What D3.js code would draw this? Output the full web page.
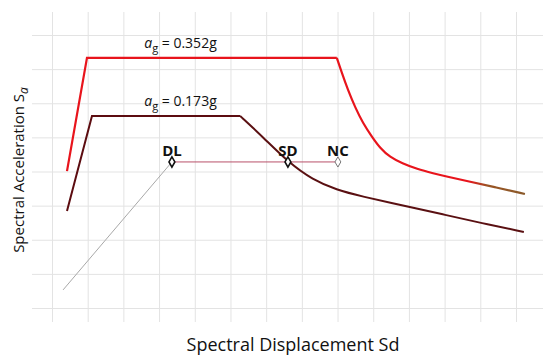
<!DOCTYPE html>
<html>
<head>
<meta charset="utf-8">
<script src="https://cdn.jsdelivr.net/npm/d3@7"></script>
<style>
  body { margin: 0; background: #fff; }
  text { font-family: "Open Sans", sans-serif; }
</style>
</head>
<body>
<div id="chart"></div>
<script>
// spectrum for ag = 0.352g  [Sd, Sa]
const redRise = [[0.42, 4.01], [0.98, 7.33], [7.98, 7.33]]
const redDecay = [[7.98, 7.33], [8.12, 6.89], [8.29, 6.39], [8.49, 5.89], [8.71, 5.42], [8.97, 5.01],
    [9.19, 4.69], [9.47, 4.42], [9.81, 4.24], [10.23, 4.07], [10.67, 3.95], [11.15, 3.83],
    [11.63, 3.72], [12.45, 3.53], [13.25, 3.34]]
// spectrum for ag = 0.173g
const darkRise = [[0.42, 2.84], [1.12, 5.63], [5.27, 5.63]]
const darkDecay = [[5.27, 5.63], [5.91, 5.01], [6.61, 4.28], [7.31, 3.75], [7.98, 3.46], [8.63, 3.28],
    [10.03, 2.96], [11.01, 2.73], [12.02, 2.49], [13.22, 2.23]]
// performance points
const limitNames = ["DL", "SD", "NC"]
const limitSd = [3.36, 6.61, 8.01]
const limitSa = 4.28
const capacityStart = [0.31, 0.53]
const spectrumLabels = ["0.352g", "0.173g"]
const labelPos = [[3.6, 7.33], [3.6, 5.63]]
const xTicks = [0, 1, 2, 3, 4, 5, 6, 7, 8, 9, 10, 11, 12, 13]
const yTicks = [0, 1, 2, 3, 4, 5, 6, 7, 8]

const width = 550
const height = 359

const x = d3.scaleLinear().domain([0, 13]).range([52, 516])
const y = d3.scaleLinear().domain([0, 8]).range([308, 35])

const svg = d3.select("#chart").append("svg")
    .attr("width", width)
    .attr("height", height)

// grid
svg.append("g")
    .attr("transform", "translate(0,322)")
    .call(d3.axisBottom(x).tickValues(xTicks).tickSize(-310).tickFormat(""))
    .call(g => g.select(".domain").remove())
    .call(g => g.selectAll(".tick line").attr("stroke", "#e3e3e3"))
svg.append("g")
    .attr("transform", "translate(32,0)")
    .call(d3.axisLeft(y).tickValues(yTicks).tickSize(-511).tickFormat(""))
    .call(g => g.select(".domain").remove())
    .call(g => g.selectAll(".tick line").attr("stroke", "#e3e3e3"))

const straight = d3.line().x(d => x(d[0])).y(d => y(d[1]))
const smooth = d3.line().x(d => x(d[0])).y(d => y(d[1])).curve(d3.curveBasis)

// red tail fades to brown
const grad = svg.append("defs").append("linearGradient")
    .attr("id", "redTail")
    .attr("gradientUnits", "userSpaceOnUse")
    .attr("x1", x(7.98)).attr("x2", x(13.25)).attr("y1", 0).attr("y2", 0)
grad.append("stop").attr("offset", "0.7").attr("stop-color", "#e8141c")
grad.append("stop").attr("offset", "0.8").attr("stop-color", "#9a5424")
grad.append("stop").attr("offset", "1").attr("stop-color", "#8a5a2a")

// capacity line + limit line
svg.append("path")
    .attr("d", straight([capacityStart, [limitSd[0], limitSa]]))
    .attr("fill", "none")
    .attr("stroke", "#a8a8a8")
    .attr("stroke-width", 1)
svg.append("path")
    .attr("d", straight([[limitSd[0], limitSa], [limitSd[2], limitSa]]))
    .attr("fill", "none")
    .attr("stroke", "#b8506a")
    .attr("stroke-width", 1)

svg.append("path")
    .attr("d", straight(redRise))
    .attr("fill", "none")
    .attr("stroke", "#e8141c")
    .attr("stroke-width", 2.2)
svg.append("path")
    .attr("d", smooth(redDecay))
    .attr("fill", "none")
    .attr("stroke", "url(#redTail)")
    .attr("stroke-width", 2.2)

svg.append("path")
    .attr("d", straight(darkRise))
    .attr("fill", "none")
    .attr("stroke", "#5c0c10")
    .attr("stroke-width", 2)
svg.append("path")
    .attr("d", smooth(darkDecay))
    .attr("fill", "none")
    .attr("stroke", "#5a1012")
    .attr("stroke-width", 2)

// markers
const diamond = d3.symbol().type(d3.symbolDiamond).size(30)
svg.append("g")
    .selectAll("path")
    .data(limitSd)
    .join("path")
    .attr("d", diamond)
    .attr("transform", d => `translate(${x(d)},${y(limitSa)})`)
    .attr("fill", "white")
    .attr("stroke", (d, i) => i == 2 ? "#777" : "#111")
    .attr("stroke-width", (d, i) => i == 2 ? 1 : 1.6)

svg.append("g")
    .attr("font-size", 15)
    .attr("font-weight", "bold")
    .attr("text-anchor", "middle")
    .attr("fill", "#111")
    .selectAll("text")
    .data(limitNames)
    .join("text")
    .attr("x", (d, i) => x(limitSd[i]))
    .attr("y", y(limitSa) - 6)
    .text(d => d)

// ag labels
spectrumLabels.forEach((s, i) => {
    const t = svg.append("text")
        .attr("x", x(labelPos[i][0]))
        .attr("y", y(labelPos[i][1]) - 10)
        .attr("font-size", 14)
        .attr("text-anchor", "middle")
        .attr("fill", "#111")
    t.append("tspan").attr("font-style", "italic").text("a")
    t.append("tspan").attr("font-size", 11).attr("dy", 4).text("g")
    t.append("tspan").attr("dy", -4).text(" = " + s)
})

// axis titles
svg.append("text")
    .attr("x", 293)
    .attr("y", 351)
    .attr("text-anchor", "middle")
    .attr("font-size", 18)
    .attr("fill", "#111")
    .text("Spectral Displacement Sd")

const yt = svg.append("text")
    .attr("transform", "translate(24,170) rotate(-90)")
    .attr("text-anchor", "middle")
    .attr("font-size", 15)
    .attr("fill", "#111")
yt.append("tspan").text("Spectral Acceleration S")
yt.append("tspan").attr("font-size", 12).attr("font-style", "italic").attr("dy", 4).text("a")
</script>
</body>
</html>
